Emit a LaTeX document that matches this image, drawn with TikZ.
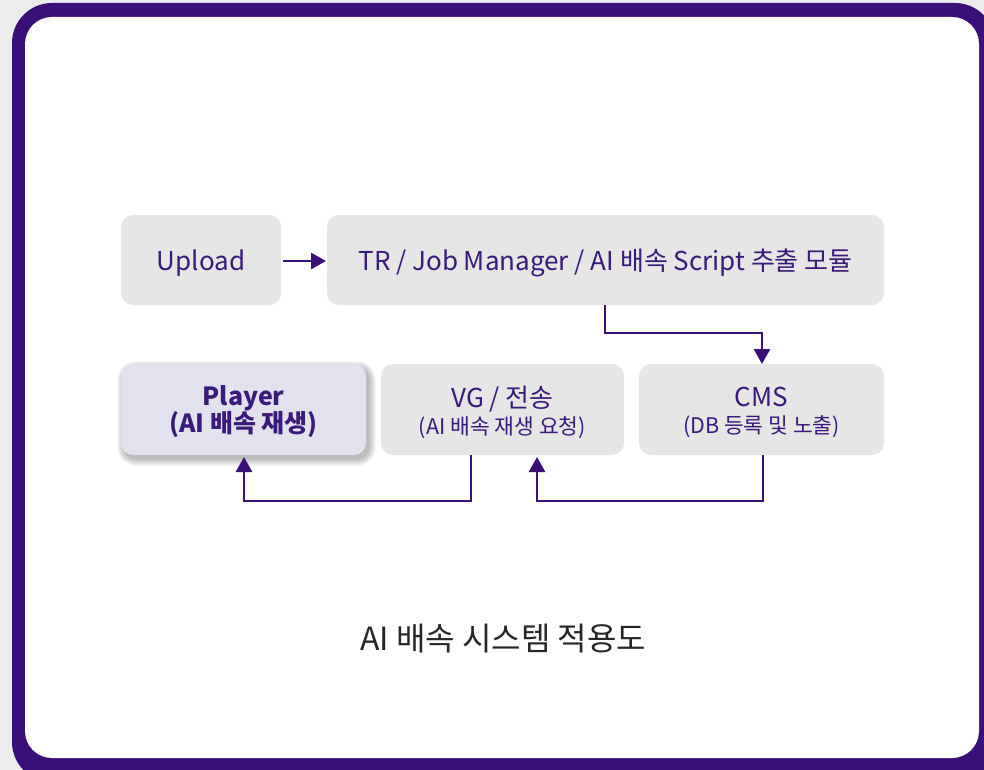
\documentclass[tikz,border=0pt]{standalone}
\usepackage{fontspec}
\setmainfont{Noto Sans CJK KR}
\usetikzlibrary{arrows.meta}
\definecolor{frame}{HTML}{3B0F78}
\definecolor{ink}{HTML}{3A1A7A}
\definecolor{boxgray}{HTML}{E6E6E6}
\definecolor{lav}{HTML}{E2E2EF}
\definecolor{bg}{HTML}{ECECEC}
\tikzset{
  x=1pt, y=-1pt,
  box/.style={fill=boxgray, rounded corners=12pt, inner sep=0pt},
  lbl/.style={text=ink, align=center, font=\fontsize{26}{27}\selectfont},
  conn/.style={draw=frame, line width=2.6pt, -{Triangle[length=15pt,width=16pt]}},
}
\newcommand{\subt}{\fontsize{21.5}{27}\selectfont}
\begin{document}
\begin{tikzpicture}
\useasboundingbox (0,0) rectangle (984,770);
\fill[bg] (0,0) rectangle (984,770);
\fill[frame, rounded corners=40pt] (12,3) rectangle (995,782);
\fill[white, rounded corners=27pt] (25,17) rectangle (979,758);
% boxes
\path[box] (121,215) rectangle (281,305);
\node[lbl] (up) at (201,263) {Upload};
\path[box] (327,215) rectangle (884,305);
\node[lbl] (tr) at (605.5,263) {TR / Job Manager / AI 배속 Script 추출 모듈};
% soft shadow for player
\foreach \i in {0,...,7}{
  \fill[black, opacity=0.035, rounded corners=12pt+\i pt] (124-\i,368-\i) rectangle (369+\i,459+\i);
}
\path[box, fill=lav] (121,364) rectangle (366,455);
\node[lbl, font=\bfseries\fontsize{25}{27}\selectfont] (pl) at (243.5,412) {Player\\(AI 배속 재생)};
\path[box] (381,364) rectangle (624,455);
\node[lbl] (vg) at (502.5,412) {VG / 전송\\{\subt (AI 배속 재생 요청)}};
\path[box] (639,364) rectangle (884,455);
\node[lbl] (cms) at (761.5,412) {CMS\\{\subt (DB 등록 및 노출)}};
% anchors
\coordinate (upE) at (283,261);
\coordinate (trW) at (326,261);
\coordinate (trS) at (605,305);
\coordinate (cmsN) at (762,364);
\coordinate (cmsS) at (763,455);
\coordinate (vgS) at (471,455);
\coordinate (vgB) at (537,457);
\coordinate (plB) at (244,457);
\draw[conn] (upE) -- (trW);
\draw[conn] (trS) |- (683,333) -| (cmsN);
\draw[conn] (cmsS) |- (650,501) -| (vgB);
\draw[conn] (vgS) |- (350,501) -| (plB);
\node[text=black!85, font=\fontsize{32}{36}\selectfont] (title) at (503,639) {AI 배속 시스템 적용도};
\end{tikzpicture}
\end{document}
